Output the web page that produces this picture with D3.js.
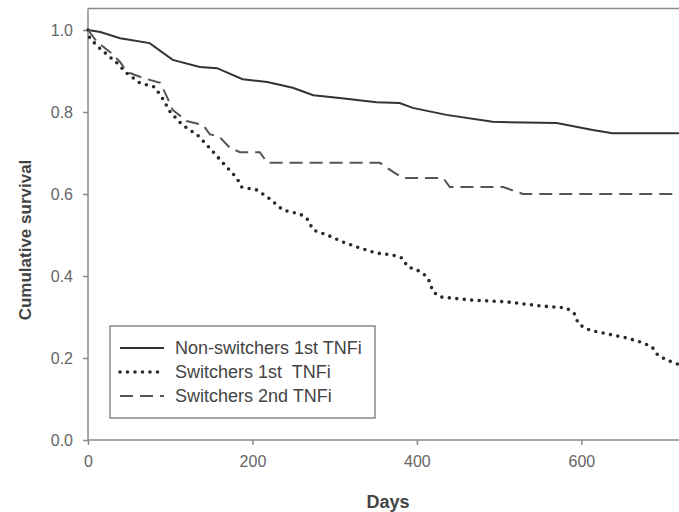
<!DOCTYPE html>
<meta charset="utf-8">
<script src="https://d3js.org/d3.v7.min.js"></script>
<style>
  body { margin: 0; background: #fff; }
  text { font-family: "Liberation Sans", Arial, sans-serif; }
</style>
<svg id="chart" width="679" height="512"></svg>
<script>
  // survival curves (days, cumulative survival)
  var nonSwDays = [0, 15, 39, 75, 103, 136, 157, 188, 218, 249, 274, 306, 351, 379, 395, 436, 492, 570, 614, 638, 720];
  var nonSwSurv = [1.0, 0.995, 0.98, 0.968, 0.927, 0.91, 0.907, 0.88, 0.873, 0.859, 0.841, 0.834, 0.824, 0.822, 0.81, 0.793, 0.776, 0.773, 0.756, 0.748, 0.748];

  var sw1Days = [0, 2, 15, 35, 47, 63, 81, 91, 100, 115, 133, 148, 164, 181, 187, 205, 218, 237, 258, 266, 274, 291, 310, 331, 351, 371, 382, 389, 400, 410, 416, 419, 428, 468, 509, 550, 582, 592, 596, 604, 614, 655, 675, 686, 693, 704, 720];
  var sw1Surv = [1.0, 0.98, 0.954, 0.92, 0.895, 0.871, 0.861, 0.832, 0.80, 0.768, 0.744, 0.712, 0.676, 0.639, 0.617, 0.61, 0.593, 0.561, 0.551, 0.541, 0.512, 0.5, 0.483, 0.468, 0.456, 0.451, 0.444, 0.422, 0.415, 0.402, 0.385, 0.363, 0.349, 0.341, 0.337, 0.327, 0.322, 0.307, 0.285, 0.273, 0.266, 0.249, 0.237, 0.227, 0.207, 0.195, 0.183];

  var sw2Days = [0, 11, 27, 39, 47, 67, 88, 96, 103, 120, 140, 148, 160, 173, 185, 209, 218, 355, 371, 383, 432, 440, 505, 529, 720];
  var sw2Surv = [1.0, 0.971, 0.946, 0.922, 0.898, 0.883, 0.871, 0.837, 0.805, 0.778, 0.768, 0.746, 0.739, 0.712, 0.702, 0.702, 0.676, 0.676, 0.654, 0.639, 0.639, 0.617, 0.617, 0.6, 0.6];

  var seriesNames = ["Non-switchers 1st TNFi", "Switchers 1st  TNFi", "Switchers 2nd TNFi"];
  var xTicks = [0, 200, 400, 600];
  var yTicks = [0, 0.2, 0.4, 0.6, 0.8, 1.0];

  var svg = d3.select("#chart");

  var x = d3.scaleLinear().domain([0, 720]).range([88, 680]);
  var y = d3.scaleLinear().domain([0, 1]).range([440, 30]);

  var axisColor = "#8a8a8a";

  // top frame line
  svg.append("line")
    .attr("x1", 88).attr("x2", 679)
    .attr("y1", 8.5).attr("y2", 8.5)
    .attr("stroke", axisColor).attr("stroke-width", 1.5);

  var xAxis = svg.append("g")
    .attr("transform", "translate(0,440)")
    .call(d3.axisBottom(x).tickValues(xTicks).tickSize(5).tickPadding(11).tickFormat(d3.format("d")));

  var yAxis = svg.append("g")
    .attr("transform", "translate(88,0)")
    .call(d3.axisLeft(y).tickValues(yTicks).tickSize(5).tickPadding(10).tickFormat(d3.format(".1f")));

  [xAxis, yAxis].forEach(function (g) {
    g.select(".domain").attr("stroke", axisColor).attr("stroke-width", 1.5);
    g.selectAll(".tick line").attr("stroke", axisColor).attr("stroke-width", 1.5);
    g.selectAll(".tick text")
      .attr("fill", "#666")
      .style("font-size", "16px");
  });
  xAxis.select(".domain").attr("d", "M88,0H679");
  yAxis.select(".domain").attr("d", "M0,8.5V440");

  // axis titles
  svg.append("text")
    .attr("x", 388).attr("y", 508)
    .attr("text-anchor", "middle")
    .attr("fill", "#444")
    .style("font-size", "18px").style("font-weight", "bold")
    .text("Days");

  svg.append("text")
    .attr("transform", "translate(31,240) rotate(-90)")
    .attr("text-anchor", "middle")
    .attr("fill", "#444")
    .style("font-size", "17px").style("font-weight", "bold")
    .text("Cumulative survival");

  var line = d3.line()
    .x(function (d) { return x(d[0]); })
    .y(function (d) { return y(d[1]); });

  var styles = [
    { stroke: "#333", width: 2, dash: null, cap: "butt" },
    { stroke: "#2a2a2a", width: 3.6, dash: "0 7.5", cap: "round" },
    { stroke: "#555", width: 2, dash: "13 7", cap: "butt" }
  ];

  var series = [
    d3.zip(nonSwDays, nonSwSurv),
    d3.zip(sw1Days, sw1Surv),
    d3.zip(sw2Days, sw2Surv)
  ];

  series.forEach(function (s, i) {
    svg.append("path")
      .datum(s)
      .attr("d", line)
      .attr("fill", "none")
      .attr("stroke", styles[i].stroke)
      .attr("stroke-width", styles[i].width)
      .attr("stroke-dasharray", styles[i].dash)
      .attr("stroke-linecap", styles[i].cap);
  });

  // legend
  var legend = svg.append("g");
  legend.append("rect")
    .attr("x", 110).attr("y", 326)
    .attr("width", 265).attr("height", 92)
    .attr("fill", "#fff")
    .attr("stroke", axisColor).attr("stroke-width", 1.5);

  seriesNames.forEach(function (name, i) {
    var ly = 348 + i * 24;
    legend.append("line")
      .attr("x1", 120).attr("x2", 164)
      .attr("y1", ly).attr("y2", ly)
      .attr("stroke", styles[i].stroke)
      .attr("stroke-width", styles[i].width)
      .attr("stroke-dasharray", styles[i].dash)
      .attr("stroke-linecap", styles[i].cap);
    legend.append("text")
      .attr("x", 175).attr("y", ly + 6)
      .attr("fill", "#444")
      .style("font-size", "18px")
      .style("white-space", "pre")
      .text(name);
  });
</script>
